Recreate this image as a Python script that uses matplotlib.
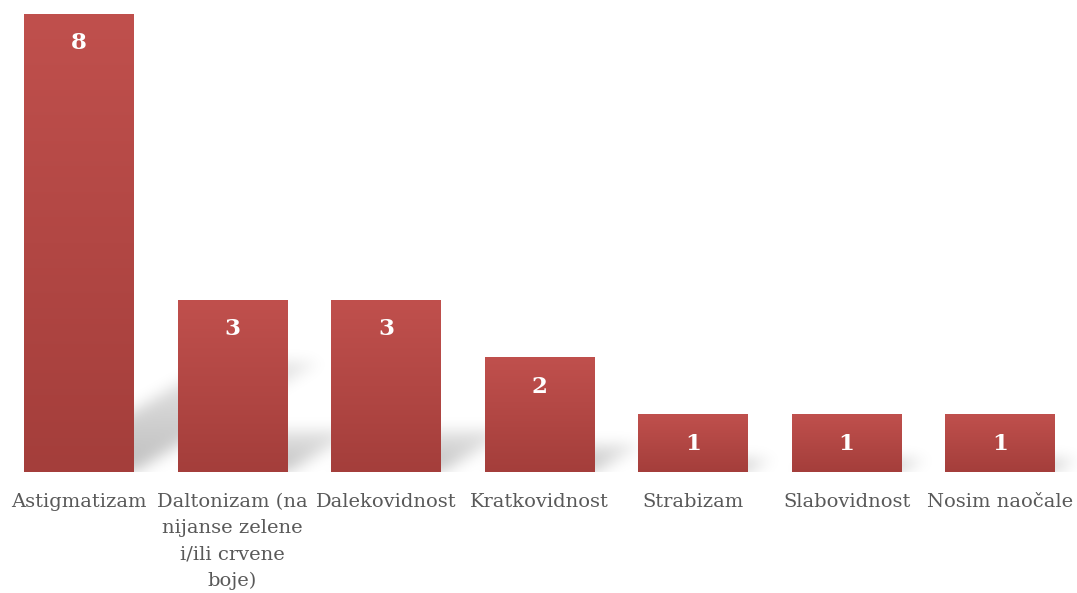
import numpy as np
import matplotlib
matplotlib.use("Agg")
import matplotlib.pyplot as plt
from matplotlib.colors import LinearSegmentedColormap

categories = ["Astigmatizam", "Daltonizam (na\nnijanse zelene\ni/ili crvene\nboje)",
              "Dalekovidnost", "Kratkovidnost", "Strabizam", "Slabovidnost", "Nosim naočale"]
values = [8, 3, 3, 2, 1, 1, 1]

TOP_COLOR = "#C0504D"
BOTTOM_COLOR = "#A43E3B"
LABEL_COLOR = "#595959"
FONT = ["DejaVu Serif"]

fig = plt.figure(figsize=(10.77, 5.93), dpi=100)
ax = fig.add_axes([0.002, 0.204, 0.998, 0.7726])
n = len(values)
xs = np.arange(n)
width = 0.716
ymax = 8
ax.set_xlim(-0.5, n - 0.5)
ax.set_ylim(0, ymax)

# --- blurred perspective shadows (computed from data) ---
nx, ny = 1076, 458
gx = np.linspace(-0.5, n - 0.5, nx)
gy = np.linspace(0, ymax, ny)
X, Y = np.meshgrid(gx, gy)
shadow = np.zeros_like(X)
k_h, k_s = 0.24, 0.15
for x, v in zip(xs, values):
    hs = k_h * v
    sh = k_s * v
    t = np.clip(Y / hs, 0, 1)
    left = x - width / 2 + sh * t + 0.05
    right = x + width / 2 + sh * t
    m = (Y <= hs) & (X >= left) & (X <= right)
    a = np.where(m, 1.0 - 0.6 * t, 0.0)
    shadow = np.maximum(shadow, a)

def blur(arr, sigma_x, sigma_y):
    def kern(s):
        r = int(3 * s)
        k = np.exp(-0.5 * (np.arange(-r, r + 1) / s) ** 2)
        return k / k.sum()
    kx, ky = kern(sigma_x), kern(sigma_y)
    out = np.array([np.convolve(row, kx, mode="same") for row in arr])
    out = np.array([np.convolve(col, ky, mode="same") for col in out.T]).T
    return out

shadow = blur(shadow, 9, 7)
rgba = np.zeros((ny, nx, 4))
rgba[..., 3] = 0.26 * shadow
ax.imshow(rgba, extent=[-0.5, n - 0.5, 0, ymax], origin="lower",
          aspect="auto", zorder=1, interpolation="bilinear")

# --- bars with vertical gradient ---
bars = ax.bar(xs, values, width=width, color=TOP_COLOR, zorder=2, linewidth=0)
cmap = LinearSegmentedColormap.from_list("g", [BOTTOM_COLOR, TOP_COLOR])
grad = np.linspace(0, 1, 256).reshape(-1, 1)
for b in bars:
    x0, y0 = b.get_x(), b.get_y()
    w, h = b.get_width(), b.get_height()
    ax.imshow(grad, extent=[x0, x0 + w, y0, y0 + h], origin="lower",
              aspect="auto", cmap=cmap, zorder=3)
ax.set_xlim(-0.5, n - 0.5)
ax.set_ylim(0, ymax)

for x, v in zip(xs, values):
    ax.annotate(str(v), (x, v), xytext=(0, -21), textcoords="offset points",
                ha="center", va="center", color="white", fontsize=16.5,
                fontweight="bold", family=FONT, zorder=5)

ax.set_xticks(xs)
ax.set_xticklabels(categories, family=FONT, fontsize=14, color=LABEL_COLOR,
                   linespacing=1.6, va="top")
ax.tick_params(axis="x", length=0, pad=15)
ax.set_yticks([])
for s in ax.spines.values():
    s.set_visible(False)

fig.savefig("out.png", dpi=100, facecolor="white")
